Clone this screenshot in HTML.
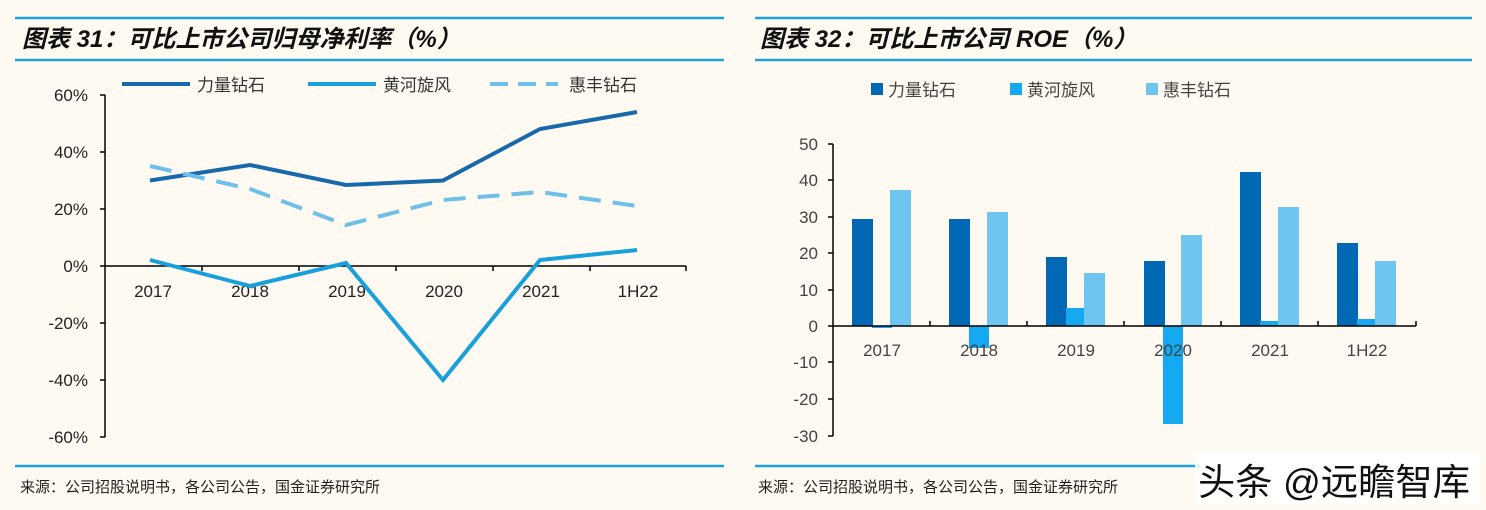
<!DOCTYPE html><html><head><meta charset="utf-8"><style>
body{margin:0;background:#fffaf1;}
svg{display:block}
text{font-family:"Liberation Sans","Noto Sans CJK SC",sans-serif;}
</style></head><body>
<svg width="1486" height="510" viewBox="0 0 1486 510">
<rect width="1486" height="510" fill="#fffaf1"/>
<g stroke="#1aa3dd" stroke-width="2.5">
<line x1="15" y1="18" x2="724" y2="18"/><line x1="15" y1="60" x2="724" y2="60"/><line x1="15" y1="466" x2="724" y2="466"/>
<line x1="755" y1="18" x2="1472" y2="18"/><line x1="755" y1="60" x2="1472" y2="60"/><line x1="755" y1="466" x2="1200" y2="466"/>
</g>
<text x="22" y="47" font-size="24" font-weight="bold" font-style="italic" fill="#111">图表 31：可比上市公司归母净利率（%）</text>
<text x="760" y="47" font-size="24" font-weight="bold" font-style="italic" fill="#111">图表 32：可比上市公司 ROE（%）</text>
<text x="20" y="492" font-size="15" fill="#222">来源：公司招股说明书，各公司公告，国金证券研究所</text>
<text x="758" y="492" font-size="15" fill="#222">来源：公司招股说明书，各公司公告，国金证券研究所</text>
<line x1="122" y1="84" x2="190" y2="84" stroke="#1868ac" stroke-width="4"/>
<text x="197" y="91" font-size="17" fill="#333">力量钻石</text>
<line x1="308" y1="84" x2="376" y2="84" stroke="#18a0dc" stroke-width="4"/>
<text x="383" y="91" font-size="17" fill="#333">黄河旋风</text>
<line x1="490" y1="84" x2="558" y2="84" stroke="#6ec0ea" stroke-width="4" stroke-dasharray="18,10"/>
<text x="569" y="91" font-size="17" fill="#333">惠丰钻石</text>
<g stroke="#000" stroke-width="1.5">
<line x1="105" y1="95" x2="105" y2="437"/><line x1="105" y1="266" x2="686" y2="266"/>
<line x1="100" y1="95" x2="105" y2="95"/><line x1="100" y1="152" x2="105" y2="152"/><line x1="100" y1="209" x2="105" y2="209"/><line x1="100" y1="266" x2="105" y2="266"/><line x1="100" y1="323" x2="105" y2="323"/><line x1="100" y1="380" x2="105" y2="380"/><line x1="100" y1="437" x2="105" y2="437"/>
<line x1="202" y1="266" x2="202" y2="271"/><line x1="299" y1="266" x2="299" y2="271"/><line x1="396" y1="266" x2="396" y2="271"/><line x1="493" y1="266" x2="493" y2="271"/><line x1="590" y1="266" x2="590" y2="271"/><line x1="686" y1="266" x2="686" y2="271"/>
</g>
<g font-size="17" fill="#222" text-anchor="end">
<text x="88" y="101">60%</text><text x="88" y="158">40%</text><text x="88" y="215">20%</text><text x="88" y="272">0%</text><text x="88" y="329">-20%</text><text x="88" y="386">-40%</text><text x="88" y="443">-60%</text>
</g>
<g font-size="17" fill="#222" text-anchor="middle">
<text x="153" y="297">2017</text><text x="250" y="297">2018</text><text x="347" y="297">2019</text><text x="444" y="297">2020</text><text x="541" y="297">2021</text><text x="638" y="297">1H22</text>
</g>
<polyline fill="none" stroke="#1868ac" stroke-width="4" points="150,180.5 250,165 346,185 443,180.5 540,129 637,112"/>
<polyline fill="none" stroke="#18a0dc" stroke-width="4" points="150,260 250,286 346,263 443,380 540,260 637,250"/>
<polyline fill="none" stroke="#6ec0ea" stroke-width="4" stroke-dasharray="22,12" points="150,166 250,189 346,225 443,200 540,192 637,206"/>
<rect x="871" y="83" width="12" height="12" fill="#0068b5"/><text x="888" y="96" font-size="17" fill="#444">力量钻石</text>
<rect x="1010" y="83" width="12" height="12" fill="#14a9f0"/><text x="1027" y="96" font-size="17" fill="#444">黄河旋风</text>
<rect x="1146" y="83" width="12" height="12" fill="#6ec5f0"/><text x="1163" y="96" font-size="17" fill="#444">惠丰钻石</text>
<g>
<rect x="852" y="219" width="21" height="107" fill="#0068b5"/><rect x="872" y="326" width="20" height="2" fill="#14a9f0"/><rect x="890" y="190" width="21" height="136" fill="#6ec5f0"/>
<rect x="949" y="219" width="21" height="107" fill="#0068b5"/><rect x="969" y="326" width="20" height="22" fill="#14a9f0"/><rect x="987" y="212" width="21" height="114" fill="#6ec5f0"/>
<rect x="1046" y="257" width="21" height="69" fill="#0068b5"/><rect x="1066" y="308" width="20" height="18" fill="#14a9f0"/><rect x="1084" y="273" width="21" height="53" fill="#6ec5f0"/>
<rect x="1144" y="261" width="21" height="65" fill="#0068b5"/><rect x="1163" y="326" width="20" height="98" fill="#14a9f0"/><rect x="1181" y="235" width="21" height="91" fill="#6ec5f0"/>
<rect x="1240" y="172" width="21" height="154" fill="#0068b5"/><rect x="1260" y="321" width="20" height="5" fill="#14a9f0"/><rect x="1278" y="207" width="21" height="119" fill="#6ec5f0"/>
<rect x="1337" y="243" width="21" height="83" fill="#0068b5"/><rect x="1357" y="319" width="20" height="7" fill="#14a9f0"/><rect x="1375" y="261" width="21" height="65" fill="#6ec5f0"/>
</g>
<g stroke="#000" stroke-width="1.5">
<line x1="833" y1="144" x2="833" y2="436"/><line x1="833" y1="326" x2="1416" y2="326"/>
<line x1="828" y1="144" x2="833" y2="144"/><line x1="828" y1="180" x2="833" y2="180"/><line x1="828" y1="217" x2="833" y2="217"/><line x1="828" y1="253" x2="833" y2="253"/><line x1="828" y1="290" x2="833" y2="290"/><line x1="828" y1="326" x2="833" y2="326"/><line x1="828" y1="362" x2="833" y2="362"/><line x1="828" y1="399" x2="833" y2="399"/><line x1="828" y1="436" x2="833" y2="436"/>
<line x1="930" y1="321" x2="930" y2="326"/><line x1="1027" y1="321" x2="1027" y2="326"/><line x1="1124" y1="321" x2="1124" y2="326"/><line x1="1221" y1="321" x2="1221" y2="326"/><line x1="1318" y1="321" x2="1318" y2="326"/><line x1="1416" y1="321" x2="1416" y2="326"/>
</g>
<g font-size="17" fill="#444" text-anchor="end">
<text x="818" y="150">50</text><text x="818" y="186">40</text><text x="818" y="223">30</text><text x="818" y="259">20</text><text x="818" y="296">10</text><text x="818" y="332">0</text><text x="818" y="368">-10</text><text x="818" y="405">-20</text><text x="818" y="442">-30</text>
</g>
<g font-size="17" fill="#444" text-anchor="middle">
<text x="882" y="356">2017</text><text x="979" y="356">2018</text><text x="1076" y="356">2019</text><text x="1173" y="356">2020</text><text x="1270" y="356">2021</text><text x="1367" y="356">1H22</text>
</g>
<rect x="1195" y="452" width="285" height="52" fill="#fff" opacity="0.85"/>
<text x="1198" y="495" font-size="37" fill="#111" textLength="272" lengthAdjust="spacingAndGlyphs">头条 @远瞻智库</text>
</svg>
</body></html>
